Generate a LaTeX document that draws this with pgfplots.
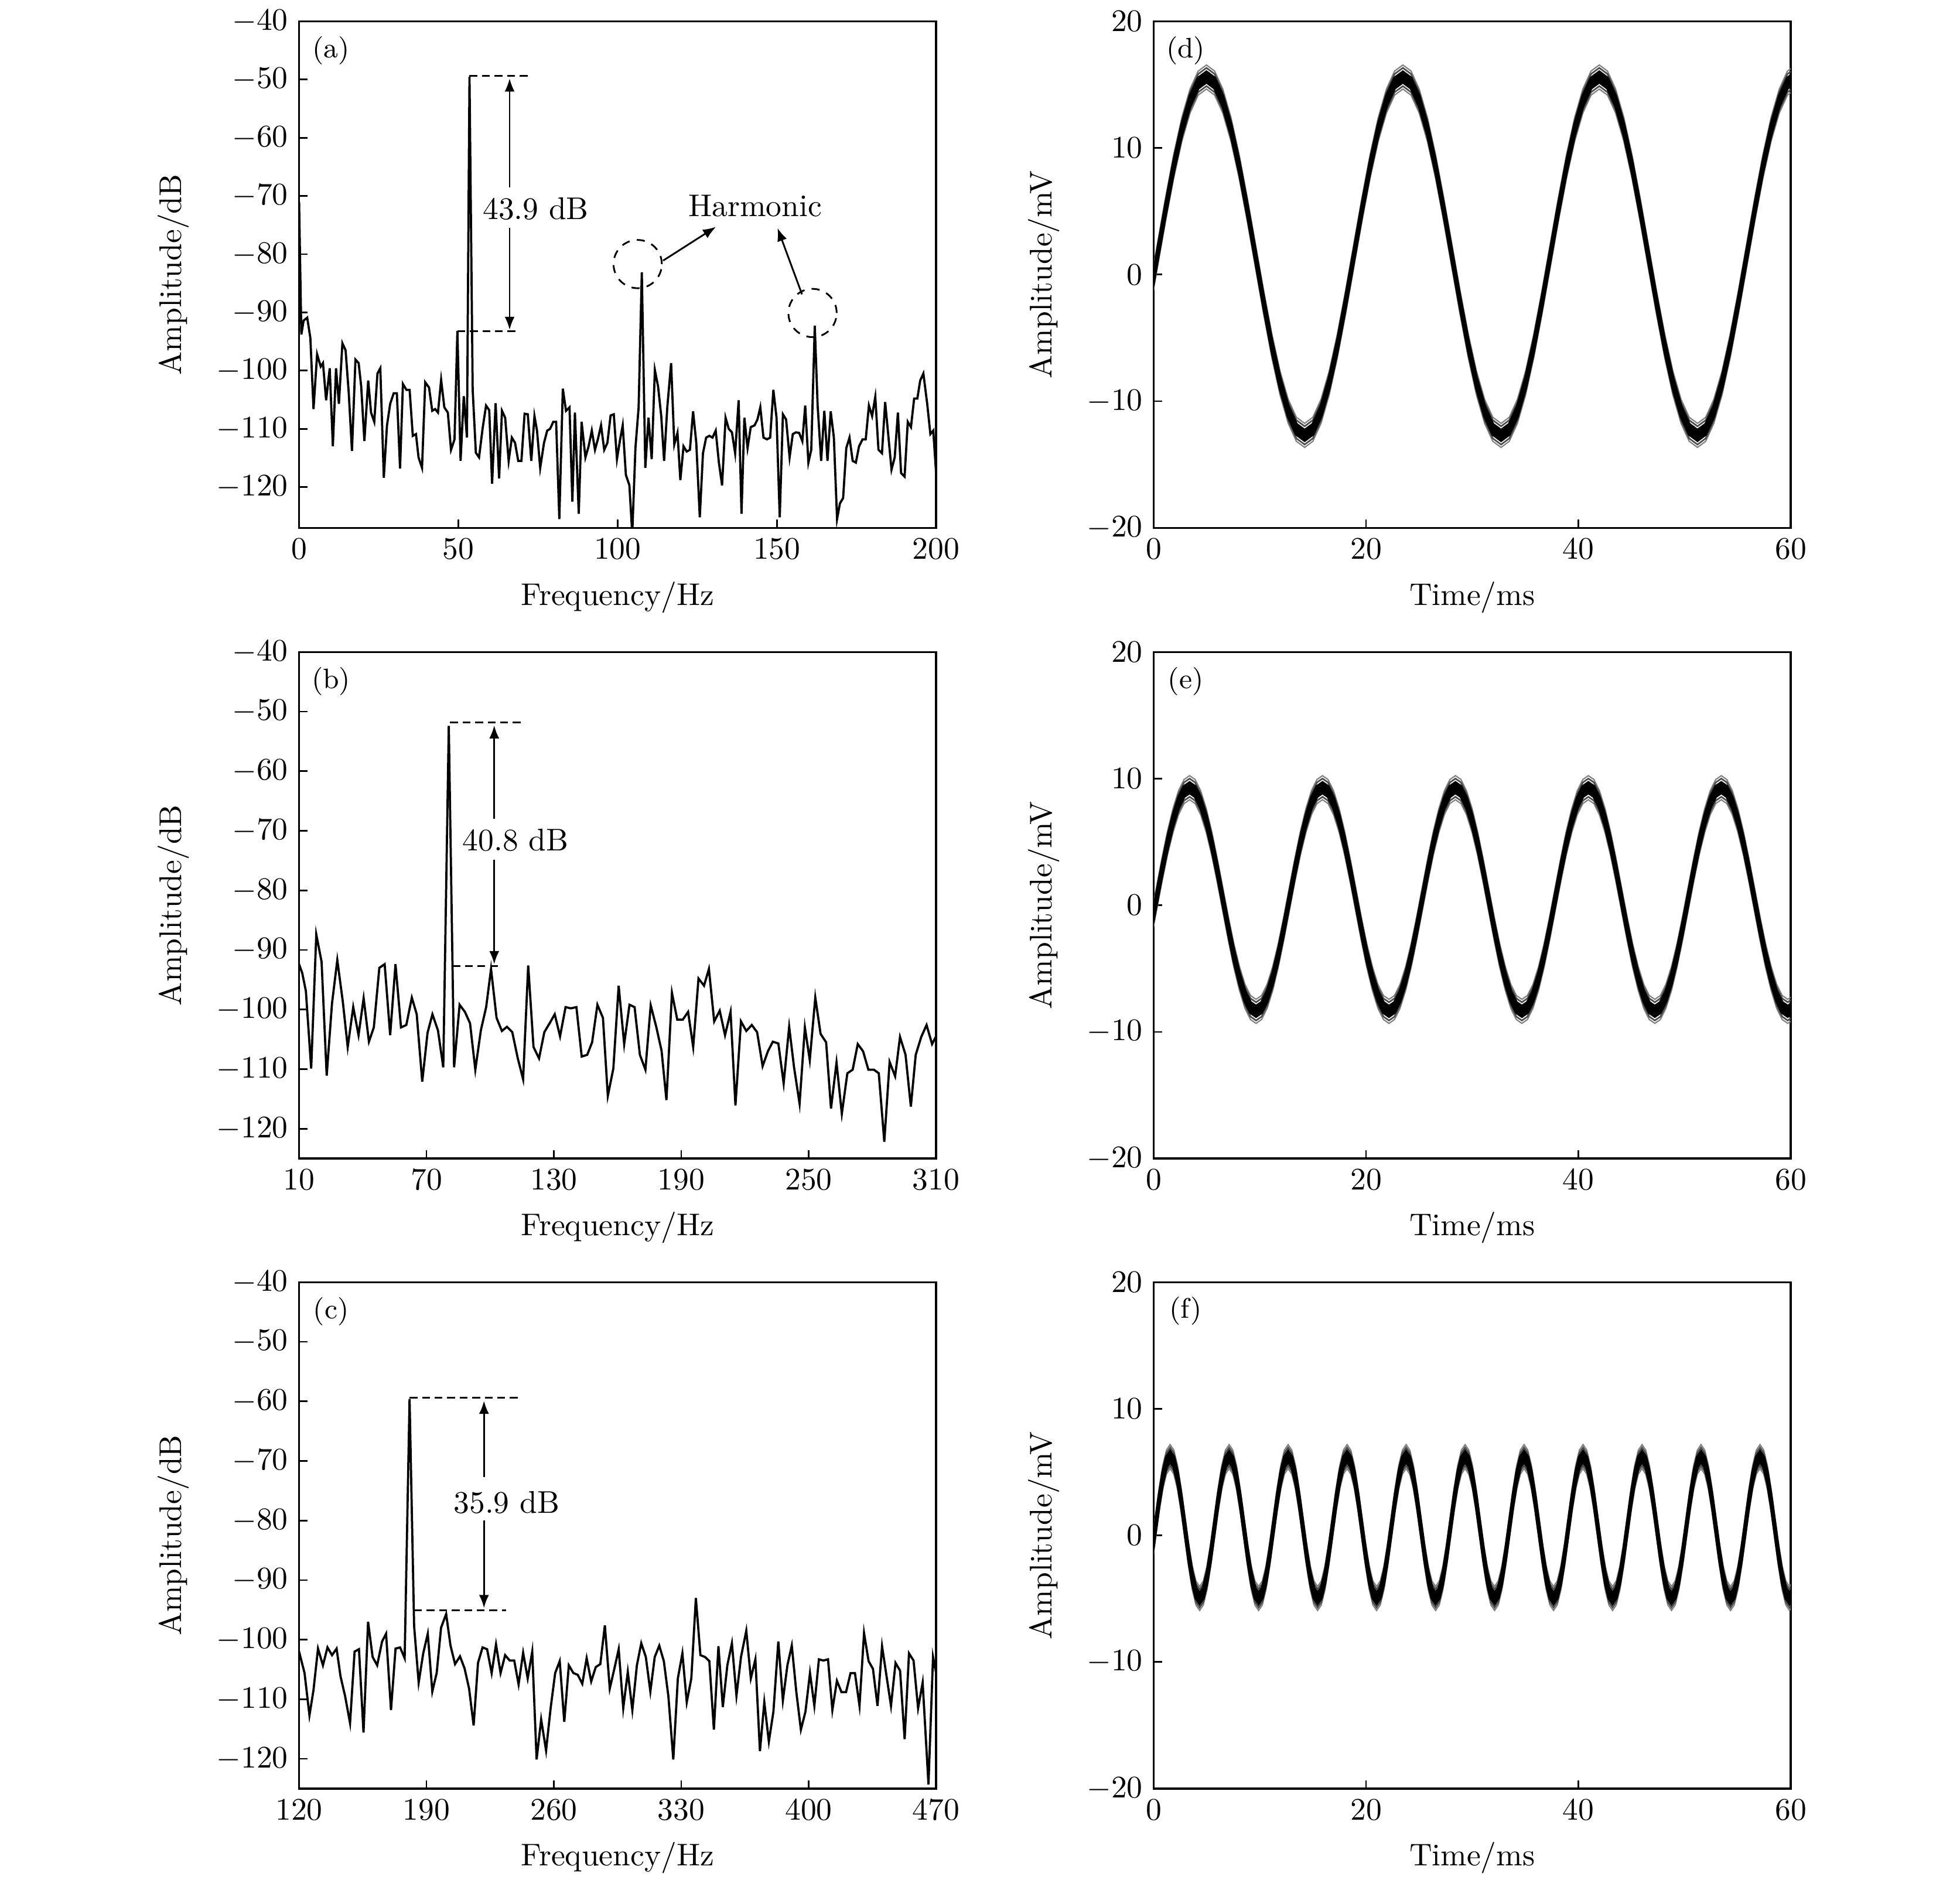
\documentclass[border=0pt]{standalone}
\usepackage{pgfplots}
\usepackage{pgfplotstable}
\pgfplotsset{compat=1.18}
\usetikzlibrary{arrows.meta}

\tikzset{
  dsh/.style={black, line width=0.5pt, dash pattern=on 2.5pt off 1.5pt},
  dcirc/.style={black, line width=0.55pt, dash pattern=on 2.6pt off 2.3pt},
  arr/.style={black, line width=0.55pt, -{Latex[length=4.2pt,width=3.2pt]}},
}
\pgfplotsset{
  panel/.style={
    scale only axis, width=203.2pt, height=161.6pt,
    axis line style={line width=0.6pt},
    tick align=inside, xtick pos=left, ytick pos=left,
    major tick length=2.7pt,
    every tick/.style={black, line width=0.5pt},
  },
  spec/.style={panel,
    ylabel={Amplitude/dB}, xlabel={Frequency/Hz},
    ylabel style={at={(axis description cs:-0.197,0.5)}, anchor=center},
    xlabel style={at={(axis description cs:0.5,-0.137)}, anchor=center},
    ymax=-40, ytick={-120,-110,...,-40},
  },
  wave/.style={panel,
    ylabel={Amplitude/mV}, xlabel={Time/ms},
    ylabel style={at={(axis description cs:-0.172,0.5)}, anchor=center},
    xlabel style={at={(axis description cs:0.5,-0.137)}, anchor=center},
    xmin=0, xmax=60, ymin=-20, ymax=20,
    xtick={0,20,40,60}, ytick={-20,-10,0,10,20},
  },
  trace/.style={black, line width=0.7pt},
}

% noisy band: the same recorded curve stroked at several vertical offsets
\newcommand\band[1]{%
  \addplot[black!50, line width=0.4pt] table[x=t, y expr=\thisrow{v}+0.95] {#1};
  \addplot[black!50, line width=0.4pt] table[x=t, y expr=\thisrow{v}-0.95] {#1};
  \addplot[black!70, line width=0.5pt] table[x=t, y expr=\thisrow{v}+0.72] {#1};
  \addplot[black!70, line width=0.5pt] table[x=t, y expr=\thisrow{v}-0.72] {#1};
  \addplot[black, line width=0.9pt] table[x=t, y expr=\thisrow{v}+0.4] {#1};
  \addplot[black, line width=0.9pt] table[x=t, y expr=\thisrow{v}+0.2] {#1};
  \addplot[black, line width=0.9pt] table[x=t, y=v] {#1};
  \addplot[black, line width=0.9pt] table[x=t, y expr=\thisrow{v}-0.2] {#1};
  \addplot[black, line width=0.9pt] table[x=t, y expr=\thisrow{v}-0.4] {#1};
}

% time signals (d), (e), (f)
\pgfplotstableread{
t v
-0.43 -2.21
0.34 1.45
1.11 5.11
1.88 8.53
2.65 11.46
3.42 13.70
4.19 15.12
4.97 15.60
5.74 15.12
6.51 13.70
7.28 11.46
8.05 8.53
8.82 5.11
9.59 1.45
10.36 -2.21
11.13 -5.63
11.90 -8.56
12.67 -10.80
13.44 -12.22
14.22 -12.70
14.99 -12.22
15.76 -10.80
16.53 -8.56
17.30 -5.63
18.07 -2.21
18.84 1.45
19.61 5.11
20.38 8.53
21.15 11.46
21.92 13.70
22.69 15.12
23.47 15.60
24.24 15.12
25.01 13.70
25.78 11.46
26.55 8.53
27.32 5.11
28.09 1.45
28.86 -2.21
29.63 -5.63
30.40 -8.56
31.17 -10.80
31.94 -12.22
32.72 -12.70
33.49 -12.22
34.26 -10.80
35.03 -8.56
35.80 -5.63
36.57 -2.21
37.34 1.45
38.11 5.11
38.88 8.53
39.65 11.46
40.42 13.70
41.19 15.12
41.97 15.60
42.74 15.12
43.51 13.70
44.28 11.46
45.05 8.53
45.82 5.11
46.59 1.45
47.36 -2.21
48.13 -5.63
48.90 -8.56
49.67 -10.80
50.44 -12.22
51.22 -12.70
51.99 -12.22
52.76 -10.80
53.53 -8.56
54.30 -5.63
55.07 -2.21
55.84 1.45
56.61 5.11
57.38 8.53
58.15 11.46
58.92 13.70
59.69 15.12
60.47 15.60
}\Dd

\pgfplotstableread{
t v
-0.27 -1.84
0.25 0.45
0.77 2.74
1.29 4.87
1.82 6.69
2.34 8.10
2.86 8.98
3.38 9.28
3.90 8.98
4.42 8.10
4.95 6.69
5.47 4.87
5.99 2.74
6.51 0.45
7.03 -1.84
7.55 -3.97
8.08 -5.79
8.60 -7.20
9.12 -8.08
9.64 -8.38
10.16 -8.08
10.68 -7.20
11.21 -5.79
11.73 -3.97
12.25 -1.84
12.77 0.45
13.29 2.74
13.81 4.87
14.34 6.69
14.86 8.10
15.38 8.98
15.90 9.28
16.42 8.98
16.94 8.10
17.47 6.69
17.99 4.87
18.51 2.74
19.03 0.45
19.55 -1.84
20.07 -3.97
20.60 -5.79
21.12 -7.20
21.64 -8.08
22.16 -8.38
22.68 -8.08
23.20 -7.20
23.73 -5.79
24.25 -3.97
24.77 -1.84
25.29 0.45
25.81 2.74
26.33 4.87
26.86 6.69
27.38 8.10
27.90 8.98
28.42 9.28
28.94 8.98
29.46 8.10
29.99 6.69
30.51 4.87
31.03 2.74
31.55 0.45
32.07 -1.84
32.59 -3.97
33.12 -5.79
33.64 -7.20
34.16 -8.08
34.68 -8.38
35.20 -8.08
35.72 -7.20
36.25 -5.79
36.77 -3.97
37.29 -1.84
37.81 0.45
38.33 2.74
38.85 4.87
39.38 6.69
39.90 8.10
40.42 8.98
40.94 9.28
41.46 8.98
41.98 8.10
42.51 6.69
43.03 4.87
43.55 2.74
44.07 0.45
44.59 -1.84
45.11 -3.97
45.64 -5.79
46.16 -7.20
46.68 -8.08
47.20 -8.38
47.72 -8.08
48.24 -7.20
48.77 -5.79
49.29 -3.97
49.81 -1.84
50.33 0.45
50.85 2.74
51.37 4.87
51.90 6.69
52.42 8.10
52.94 8.98
53.46 9.28
53.98 8.98
54.50 8.10
55.03 6.69
55.55 4.87
56.07 2.74
56.59 0.45
57.11 -1.84
57.63 -3.97
58.16 -5.79
58.68 -7.20
59.20 -8.08
59.72 -8.38
60.24 -8.08
}\De

\pgfplotstableread{
t v
-0.19 -1.52
0.160 0.62
0.507 2.76
0.855 4.58
1.202 5.79
1.549 6.22
1.896 5.79
2.244 4.58
2.591 2.76
2.938 0.62
3.285 -1.52
3.633 -3.34
3.980 -4.55
4.327 -4.98
4.674 -4.55
5.022 -3.34
5.369 -1.52
5.716 0.62
6.063 2.76
6.411 4.58
6.758 5.79
7.105 6.22
7.452 5.79
7.800 4.58
8.147 2.76
8.494 0.62
8.841 -1.52
9.189 -3.34
9.536 -4.55
9.883 -4.98
10.230 -4.55
10.578 -3.34
10.925 -1.52
11.272 0.62
11.619 2.76
11.967 4.58
12.314 5.79
12.661 6.22
13.008 5.79
13.356 4.58
13.703 2.76
14.050 0.62
14.397 -1.52
14.745 -3.34
15.092 -4.55
15.439 -4.98
15.786 -4.55
16.134 -3.34
16.481 -1.52
16.828 0.62
17.175 2.76
17.523 4.58
17.870 5.79
18.217 6.22
18.564 5.79
18.912 4.58
19.259 2.76
19.606 0.62
19.953 -1.52
20.301 -3.34
20.648 -4.55
20.995 -4.98
21.342 -4.55
21.690 -3.34
22.037 -1.52
22.384 0.62
22.731 2.76
23.079 4.58
23.426 5.79
23.773 6.22
24.120 5.79
24.468 4.58
24.815 2.76
25.162 0.62
25.509 -1.52
25.857 -3.34
26.204 -4.55
26.551 -4.98
26.898 -4.55
27.246 -3.34
27.593 -1.52
27.940 0.62
28.287 2.76
28.635 4.58
28.982 5.79
29.329 6.22
29.676 5.79
30.024 4.58
30.371 2.76
30.718 0.62
31.065 -1.52
31.413 -3.34
31.760 -4.55
32.107 -4.98
32.454 -4.55
32.802 -3.34
33.149 -1.52
33.496 0.62
33.843 2.76
34.191 4.58
34.538 5.79
34.885 6.22
35.232 5.79
35.580 4.58
35.927 2.76
36.274 0.62
36.621 -1.52
36.969 -3.34
37.316 -4.55
37.663 -4.98
38.010 -4.55
38.358 -3.34
38.705 -1.52
39.052 0.62
39.399 2.76
39.747 4.58
40.094 5.79
40.441 6.22
40.788 5.79
41.136 4.58
41.483 2.76
41.830 0.62
42.177 -1.52
42.525 -3.34
42.872 -4.55
43.219 -4.98
43.566 -4.55
43.914 -3.34
44.261 -1.52
44.608 0.62
44.955 2.76
45.303 4.58
45.650 5.79
45.997 6.22
46.344 5.79
46.692 4.58
47.039 2.76
47.386 0.62
47.733 -1.52
48.081 -3.34
48.428 -4.55
48.775 -4.98
49.122 -4.55
49.470 -3.34
49.817 -1.52
50.164 0.62
50.511 2.76
50.859 4.58
51.206 5.79
51.553 6.22
51.900 5.79
52.248 4.58
52.595 2.76
52.942 0.62
53.289 -1.52
53.637 -3.34
53.984 -4.55
54.331 -4.98
54.678 -4.55
55.026 -3.34
55.373 -1.52
55.720 0.62
56.067 2.76
56.415 4.58
56.762 5.79
57.109 6.22
57.456 5.79
57.804 4.58
58.151 2.76
58.498 0.62
58.845 -1.52
59.193 -3.34
59.540 -4.55
59.887 -4.98
60.234 -4.55
}\Df

\begin{document}
\begin{tikzpicture}
\useasboundingbox (0,0) rectangle (625.2pt,599.6pt);

% ---------- (a) ----------
\begin{axis}[spec, at={(95.4pt,431.2pt)}, xmin=0, xmax=200, ymin=-127, xtick={0,50,...,200}]
\addplot[trace] coordinates {
(0,-71) (0.71,-93.8) (1.42,-91.4) (2.55,-90.9) (3.54,-94.4) (4.53,-106.6) (5.66,-97.2) (6.79,-99.3)
(7.50,-98.7) (8.49,-105.1) (9.62,-99.6) (10.6,-113.0) (11.6,-99.6) (12.5,-105.7) (13.6,-95.3) (14.6,-96.5)
(15.6,-103.9) (16.6,-113.8) (17.7,-98.1) (18.7,-98.7) (19.5,-102.7) (20.5,-112.1) (21.7,-101.7) (22.6,-107.2)
(23.6,-108.8) (24.6,-100.5) (25.5,-99.6) (26.6,-118.4) (27.6,-109.4) (28.6,-105.7) (29.7,-103.9) (30.7,-103.9)
(31.7,-116.8) (32.6,-102.3) (33.7,-103.3) (34.7,-103.3) (35.7,-111.2) (36.7,-110.9) (37.5,-114.9) (38.6,-116.7)
(39.6,-102.0) (40.8,-102.9) (41.8,-106.9) (42.7,-106.6) (43.6,-107.2) (44.6,-101.6) (45.6,-106.3) (46.7,-107.2)
(47.7,-113.6) (48.8,-111.8) (49.7,-93.2) (50.7,-115.5) (51.7,-104.4) (52.7,-111.5) (53.5,-49.5) (54.5,-103.3)
(55.5,-114.1) (56.5,-114.9) (57.6,-110.0) (58.7,-106.0) (59.7,-106.8) (60.6,-119.4) (61.7,-105.6) (62.8,-118.5)
(63.7,-106.9) (64.7,-108.1) (65.8,-115.5) (66.8,-111.5) (67.8,-112.4) (68.8,-115.5) (69.8,-115.5) (70.8,-107.4)
(71.8,-107.5) (72.9,-115.5) (73.9,-107.8) (74.7,-110.3) (75.7,-116.7) (76.9,-112.4) (77.9,-110.3) (78.8,-110.0)
(79.8,-108.8) (80.7,-108.8) (81.7,-125.5) (82.8,-103.1) (83.8,-106.9) (84.9,-106.3) (85.8,-122.5) (86.6,-107.2)
(87.8,-124.6) (88.7,-108.8) (89.9,-114.9) (90.9,-113.0) (91.9,-110.3) (92.9,-113.6) (93.8,-111.8) (94.8,-109.4)
(95.8,-113.6) (96.8,-112.4) (97.8,-107.7) (98.8,-107.5) (99.8,-115.2) (100.8,-111.8) (101.6,-109.4) (102.6,-117.9)
(103.7,-119.7) (104.6,-128.0) (105.6,-113.3) (106.6,-106.3) (107.6,-83.1) (108.7,-116.7) (109.7,-108.1) (110.7,-115.2)
(111.7,-99.9) (112.7,-102.7) (113.7,-107.8) (114.6,-115.5) (115.6,-106.3) (116.8,-98.7) (117.8,-112.7) (118.8,-110.7)
(119.7,-118.8) (120.7,-113.0) (121.7,-113.9) (122.7,-113.6) (123.7,-107.0) (124.7,-112.4) (125.8,-125.2) (126.8,-114.2)
(127.8,-111.5) (128.8,-111.2) (129.8,-111.5) (130.8,-110.3) (131.8,-115.8) (132.8,-119.7) (133.9,-108.1) (134.9,-110.0)
(135.9,-110.6) (136.9,-114.2) (138.0,-105.1) (138.9,-124.6) (139.8,-108.1) (140.8,-113.3) (141.8,-109.7) (143.0,-109.4)
(143.9,-108.4) (144.8,-106.3) (145.8,-111.5) (146.9,-111.8) (147.9,-111.5) (148.9,-103.3) (149.9,-108.1) (150.9,-125.2)
(151.9,-107.5) (152.9,-108.4) (154.0,-114.9) (155.0,-110.9) (156.0,-110.6) (157.0,-110.7) (158.0,-112.1) (158.9,-106.0)
(159.9,-115.8) (160.8,-113.6) (161.9,-92.3) (162.8,-106.0) (163.9,-115.5) (164.9,-106.9) (165.9,-115.5) (166.9,-107.0)
(167.9,-111.5) (168.9,-125.5) (169.8,-122.8) (170.8,-121.9) (171.8,-113.3) (172.8,-111.5) (173.8,-115.5) (174.8,-115.8)
(175.8,-113.0) (176.9,-111.8) (177.9,-111.8) (178.9,-106.0) (179.9,-107.8) (180.9,-104.5) (181.9,-113.6) (183.0,-114.2)
(184.0,-105.4) (185.0,-111.2) (186.0,-117.0) (187.0,-114.9) (188.0,-107.2) (189.0,-117.6) (190.1,-118.2) (191.1,-108.8)
(192.1,-109.7) (193.1,-104.8) (194.1,-104.8) (195.0,-101.7) (196.0,-100.5) (197.2,-105.7) (198.2,-110.9) (199.1,-110.3)
(200.0,-117.6)
};
\draw[dsh] (axis cs:53.5,-49.4) -- (axis cs:72.9,-49.4);
\draw[dsh] (axis cs:49.7,-93.2) -- (axis cs:69.3,-93.2);
\draw[arr] (axis cs:66.1,-68.5) -- (axis cs:66.1,-49.8);
\draw[arr] (axis cs:66.1,-75.5) -- (axis cs:66.1,-93.0);
\node at (axis cs:74.3,-72.2) {43.9 dB};
\draw[dcirc] (axis cs:106.3,-81.7) circle[radius=7.7pt];
\draw[dcirc] (axis cs:161.2,-90.1) circle[radius=7.7pt];
\draw[arr] (axis cs:114.3,-81.1) -- (axis cs:130.9,-75.3);
\draw[arr] (axis cs:157.9,-86.9) -- (axis cs:150.2,-75.5);
\node at (axis cs:143.2,-71.7) {Harmonic};
\node[font=\small] at (rel axis cs:0,1) [xshift=10.2pt, yshift=-9.3pt] {(a)};
\end{axis}

% ---------- (b) ----------
\begin{axis}[spec, at={(95.4pt,230pt)}, xmin=10, xmax=310, ymin=-125, xtick={10,70,...,310}]
\addplot[trace] coordinates {
(10,-92.4) (11.5,-93.9) (13.2,-96.9) (15.7,-109.9) (18.1,-87.4) (20.6,-92.0) (23.0,-111.1) (25.5,-99.0)
(28.0,-91.7) (30.6,-98.7) (32.9,-106.3) (35.5,-99.6) (38.0,-104.3) (40.4,-98.1) (42.9,-105.4) (45.2,-103.0)
(47.8,-93.0) (50.3,-92.4) (52.9,-104.3) (55.4,-92.4) (58.0,-103.0) (60.5,-102.6) (63.1,-98.0) (65.4,-100.8)
(68.0,-112.1) (70.5,-103.9) (72.8,-100.8) (75.4,-103.5) (77.9,-109.7) (80.5,-52.4) (83.0,-109.7) (85.6,-99.2)
(88.1,-100.4) (90.5,-102.3) (93.0,-110.1) (95.6,-103.5) (98.1,-99.6) (100.4,-93.2) (103.0,-101.4) (105.5,-103.6)
(107.9,-102.9) (110.4,-103.8) (113.0,-108.2) (115.5,-111.7) (117.9,-92.6) (120.4,-106.3) (123.0,-108.2) (125.5,-103.8)
(128.0,-102.3) (130.4,-100.8) (132.9,-104.5) (135.5,-99.6) (138.0,-99.8) (140.6,-99.6) (143.1,-107.9) (145.7,-107.6)
(148.0,-105.5) (150.5,-99.2) (153.1,-101.4) (155.4,-114.5) (158.0,-109.9) (160.5,-96.0) (163.1,-105.8) (165.6,-99.2)
(168.0,-99.6) (170.5,-107.6) (173.1,-110.1) (175.6,-99.3) (178.2,-102.9) (180.7,-106.9) (183.0,-115.2) (185.6,-97.2)
(188.1,-101.7) (190.7,-101.7) (193.2,-100.4) (195.6,-106.3) (198.1,-94.8) (200.7,-96.0) (203.0,-93.2) (205.5,-102.0)
(208.1,-100.2) (210.6,-104.3) (213.2,-100.4) (215.5,-116.1) (218.1,-102.0) (220.6,-103.6) (223.2,-102.6) (225.7,-103.8)
(228.3,-109.5) (230.8,-107.0) (233.1,-105.4) (235.7,-105.7) (238.2,-112.4) (240.8,-102.9) (243.1,-109.7) (245.7,-115.8)
(248.2,-103.0) (250.5,-108.5) (253.1,-98.0) (255.6,-104.1) (258.2,-105.5) (260.5,-116.6) (263.1,-108.9) (265.6,-117.5)
(268.2,-110.7) (270.7,-110.1) (273.1,-105.8) (275.6,-107.0) (278.1,-110.1) (280.7,-110.1) (283.0,-110.7) (285.6,-122.2)
(288.1,-108.8) (290.7,-111.2) (293.0,-104.6) (295.6,-107.6) (298.1,-116.3) (300.4,-107.6) (303.0,-104.6) (305.5,-102.6)
(308.1,-105.8) (310,-104.5)
};
\draw[dsh] (axis cs:81.1,-51.8) -- (axis cs:116.2,-51.8);
\draw[dsh] (axis cs:82.2,-92.7) -- (axis cs:104.5,-92.7);
\draw[arr] (axis cs:101.9,-68.0) -- (axis cs:101.9,-52.3);
\draw[arr] (axis cs:101.9,-74.9) -- (axis cs:101.9,-92.4);
\node at (axis cs:111.9,-71.6) {40.8 dB};
\node[font=\small] at (rel axis cs:0,1) [xshift=10.2pt, yshift=-9.3pt] {(b)};
\end{axis}

% ---------- (c) ----------
\begin{axis}[spec, at={(95.4pt,28.96pt)}, xmin=120, xmax=470, ymin=-125, xtick={120,190,...,470}]
\addplot[trace] coordinates {
(120,-102.0) (123.0,-105.6) (125.7,-112.7) (127.9,-108.5) (130.4,-101.5) (133.1,-104.3) (135.6,-101.3) (138.1,-102.6)
(140.6,-101.5) (142.8,-106.2) (145.3,-109.5) (148.0,-114.0) (150.5,-102.0) (152.9,-101.6) (155.4,-115.6) (157.9,-97.0)
(160.4,-102.9) (162.9,-104.3) (165.6,-100.3) (167.8,-99.0) (170.5,-111.8) (173.0,-101.5) (175.5,-101.3) (178.0,-103.1)
(180.7,-59.6) (183.2,-97.7) (185.7,-107.2) (188.2,-102.3) (190.7,-99.0) (193.2,-108.7) (195.6,-105.6) (198.0,-98.0)
(200.8,-95.7) (203.2,-101.0) (205.7,-104.1) (208.4,-102.8) (210.9,-104.8) (213.4,-108.2) (215.9,-114.4) (218.3,-103.9)
(220.8,-101.3) (223.3,-101.6) (225.8,-105.6) (228.2,-100.8) (230.7,-105.6) (233.2,-102.6) (235.7,-103.5) (238.2,-103.5)
(240.6,-107.5) (243.1,-102.2) (245.6,-106.5) (248.1,-102.0) (250.5,-120.1) (253.0,-113.4) (255.7,-118.6) (258.2,-111.5)
(260.7,-105.6) (263.2,-103.6) (265.7,-113.8) (268.2,-104.3) (270.7,-105.6) (273.1,-105.9) (275.6,-107.4) (278.0,-103.1)
(280.5,-107.0) (283.0,-104.6) (285.5,-104.1) (288.0,-97.6) (290.7,-108.2) (293.2,-104.9) (295.6,-101.6) (298.1,-111.5)
(300.6,-105.4) (303.1,-111.8) (305.6,-104.3) (308.0,-100.6) (310.5,-102.9) (313.0,-108.7) (315.4,-102.9) (317.9,-101.0)
(320.4,-103.6) (322.9,-109.5) (325.6,-120.1) (328.1,-106.5) (330.6,-102.3) (333.0,-110.5) (335.5,-106.5) (338.0,-93.0)
(340.5,-102.6) (343.0,-102.9) (345.4,-103.6) (347.9,-115.1) (350.4,-101.1) (352.8,-111.3) (355.3,-104.3) (357.8,-100.6)
(360.3,-109.4) (362.8,-102.9) (365.7,-98.5) (368.2,-106.5) (370.7,-103.3) (373.2,-118.7) (375.6,-110.5) (378.1,-117.1)
(380.6,-112.1) (383.3,-100.3) (385.8,-110.2) (388.3,-104.3) (390.7,-101.0) (393.2,-108.8) (395.7,-115.1) (398.2,-112.1)
(400.7,-105.6) (403.1,-111.1) (405.6,-103.3) (408.1,-103.5) (410.6,-103.3) (413.0,-111.8) (415.5,-106.9) (418.0,-108.8)
(420.5,-108.8) (423.0,-105.6) (425.4,-105.6) (427.9,-111.1) (430.4,-98.9) (432.9,-103.6) (435.3,-104.9) (437.8,-111.1)
(440.3,-101.1) (442.8,-106.2) (445.2,-111.1) (447.7,-103.9) (450.2,-105.2) (452.7,-116.7) (455.1,-102.3) (457.6,-103.5)
(460.1,-111.5) (462.6,-107.2) (465.8,-124.3) (468.3,-102.9) (470,-105.6)
};
\draw[dsh] (axis cs:180.7,-59.4) -- (axis cs:240.1,-59.4);
\draw[dsh] (axis cs:183.2,-95.1) -- (axis cs:233.9,-95.1);
\draw[arr] (axis cs:221.6,-72.7) -- (axis cs:221.6,-59.9);
\draw[arr] (axis cs:221.6,-80.0) -- (axis cs:221.6,-94.7);
\node at (axis cs:234,-77) {35.9 dB};
\node[font=\small] at (rel axis cs:0,1) [xshift=10.2pt, yshift=-9.3pt] {(c)};
\end{axis}

% ---------- (d) ----------
\begin{axis}[wave, at={(368pt,431.2pt)}]
\band{\Dd}
\node[font=\small] at (rel axis cs:0,1) [xshift=10.2pt, yshift=-9.3pt] {(d)};
\end{axis}

% ---------- (e) ----------
\begin{axis}[wave, at={(368pt,230pt)}]
\band{\De}
\node[font=\small] at (rel axis cs:0,1) [xshift=10.2pt, yshift=-9.3pt] {(e)};
\end{axis}

% ---------- (f) ----------
\begin{axis}[wave, at={(368pt,28.96pt)}]
\band{\Df}
\node[font=\small] at (rel axis cs:0,1) [xshift=10.2pt, yshift=-9.3pt] {(f)};
\end{axis}
\end{tikzpicture}
\end{document}
